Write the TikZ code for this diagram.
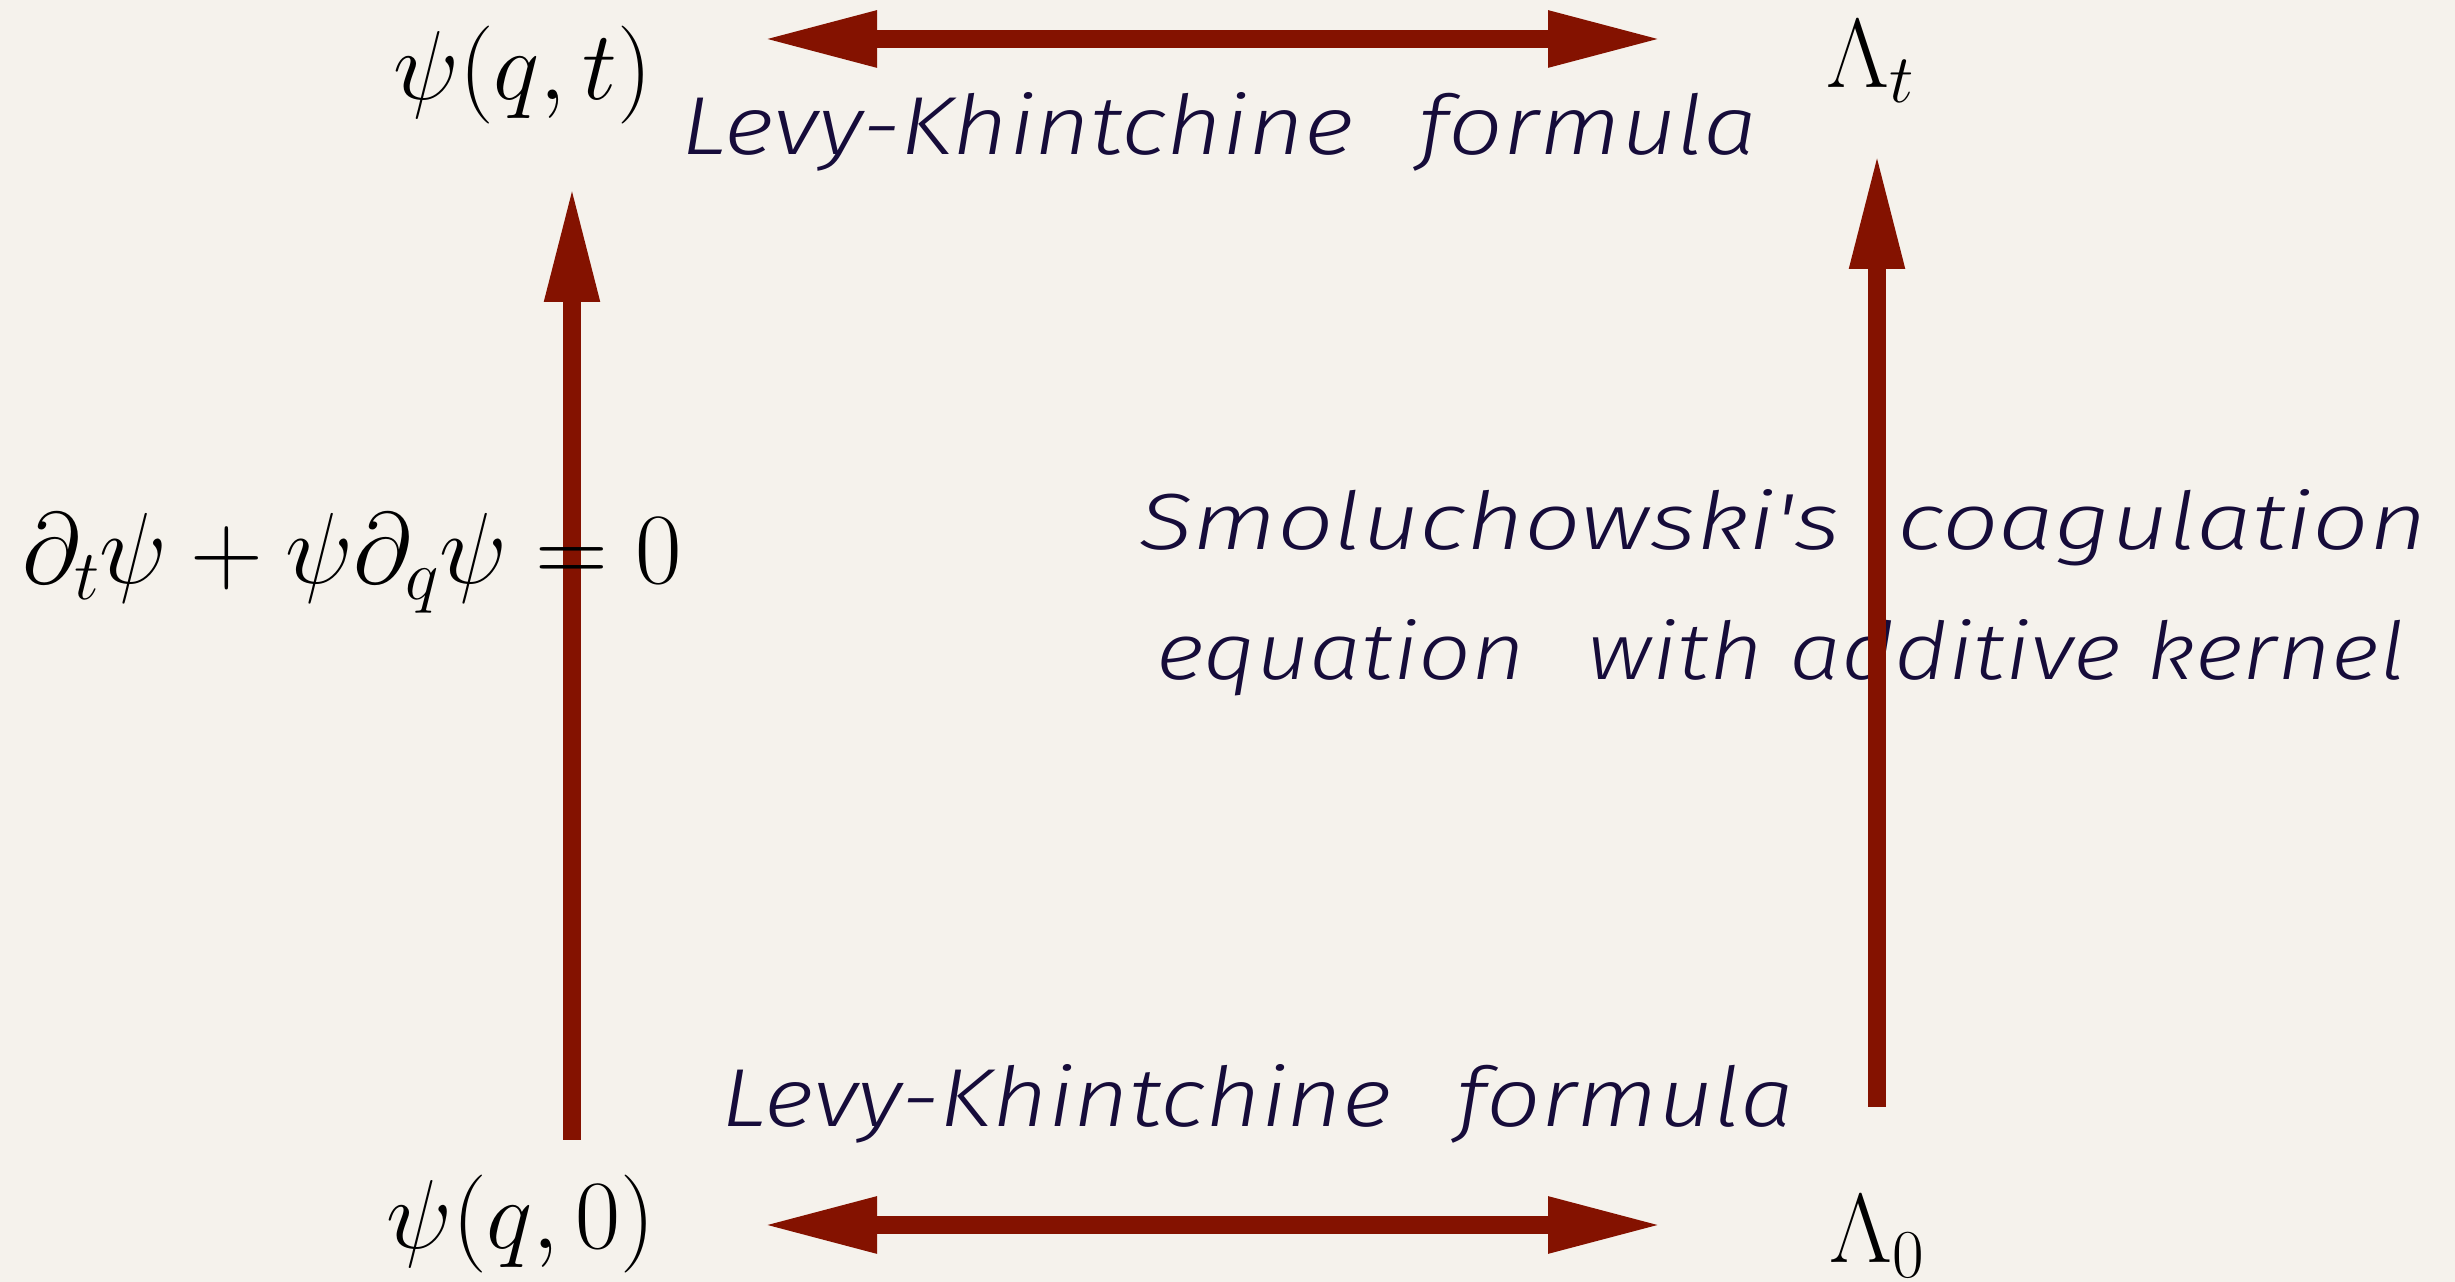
\RequirePackage{fix-cm}
\documentclass[tikz,border=0pt]{standalone}
\usepackage{fontspec}
\usepackage{graphicx}
\usetikzlibrary{arrows.meta}
\newfontfamily\hand{Fira Sans Light Italic}
\definecolor{arrowred}{RGB}{132,18,0}
\definecolor{inkblue}{RGB}{22,12,58}
\definecolor{paper}{RGB}{245,242,236}
\begin{document}
\begin{tikzpicture}[x=1pt,y=1pt,
  mathlbl/.style={inner sep=0pt, anchor=base west, font=\fontsize{98}{118}\selectfont},
  eqlbl/.style={inner sep=0pt, anchor=base west, font=\fontsize{101}{121}\selectfont},
  handlbl/.style={inner sep=0pt, anchor=base west, text=inkblue, font=\hand},
  uparrow/.style={draw=arrowred, line width=17.5pt, -{Triangle[length=116pt,width=51pt]}},
  dblarrow/.style={draw=arrowred, line width=18pt, {Triangle[length=115pt,width=52pt]}-{Triangle[length=115pt,width=52pt]}}]
\fill[paper] (0,0) rectangle (2455,1282);
\useasboundingbox (0,0) rectangle (2455,1282);
% anchor coordinates of the connectors
\coordinate (tl) at (762,1243);
\coordinate (tr) at (1663,1243);
\coordinate (bl) at (762,57);
\coordinate (br) at (1663,57);
\coordinate (ls) at (572,142);
\coordinate (le) at (572,1096);
\coordinate (rs) at (1877,175);
\coordinate (re) at (1877,1129);
% connectors
\draw[dblarrow] (tl) -- (tr);
\draw[dblarrow] (bl) -- (br);
\draw[uparrow] (ls) -- (le);
% math labels
\node[mathlbl] (psit) at (393,1182) {$\psi(q,t)$};
\node[mathlbl] (lamt) at (1826,1194) {$\Lambda_t$};
\node[mathlbl] (psi0) at (386,33) {$\psi(q,0)$};
\node[mathlbl] (lam0) at (1829,19) {$\Lambda_0$};
\node[eqlbl] (pde) at (22,698) {$\partial_t\psi+\psi\partial_q\psi=0$};
% handwritten labels
\node[handlbl] (lktop) at (681,1127) {\resizebox{1075pt}{62pt}{Levy-Khintchine\hspace{0.4em} formula}};
\node[handlbl] (lkbot) at (721,155) {\resizebox{1072pt}{62pt}{Levy-Khintchine\hspace{0.4em} formula}};
\node[handlbl] (smol1) at (1139,732) {\resizebox{1288pt}{60pt}{Smoluchowski's\hspace{0.3em} coagulation}};
\node[handlbl] (smol2) at (1156,602) {\resizebox{1249pt}{60pt}{equation\hspace{0.4em} with additive kernel}};
\draw[uparrow] (rs) -- (re);
\end{tikzpicture}
\end{document}
